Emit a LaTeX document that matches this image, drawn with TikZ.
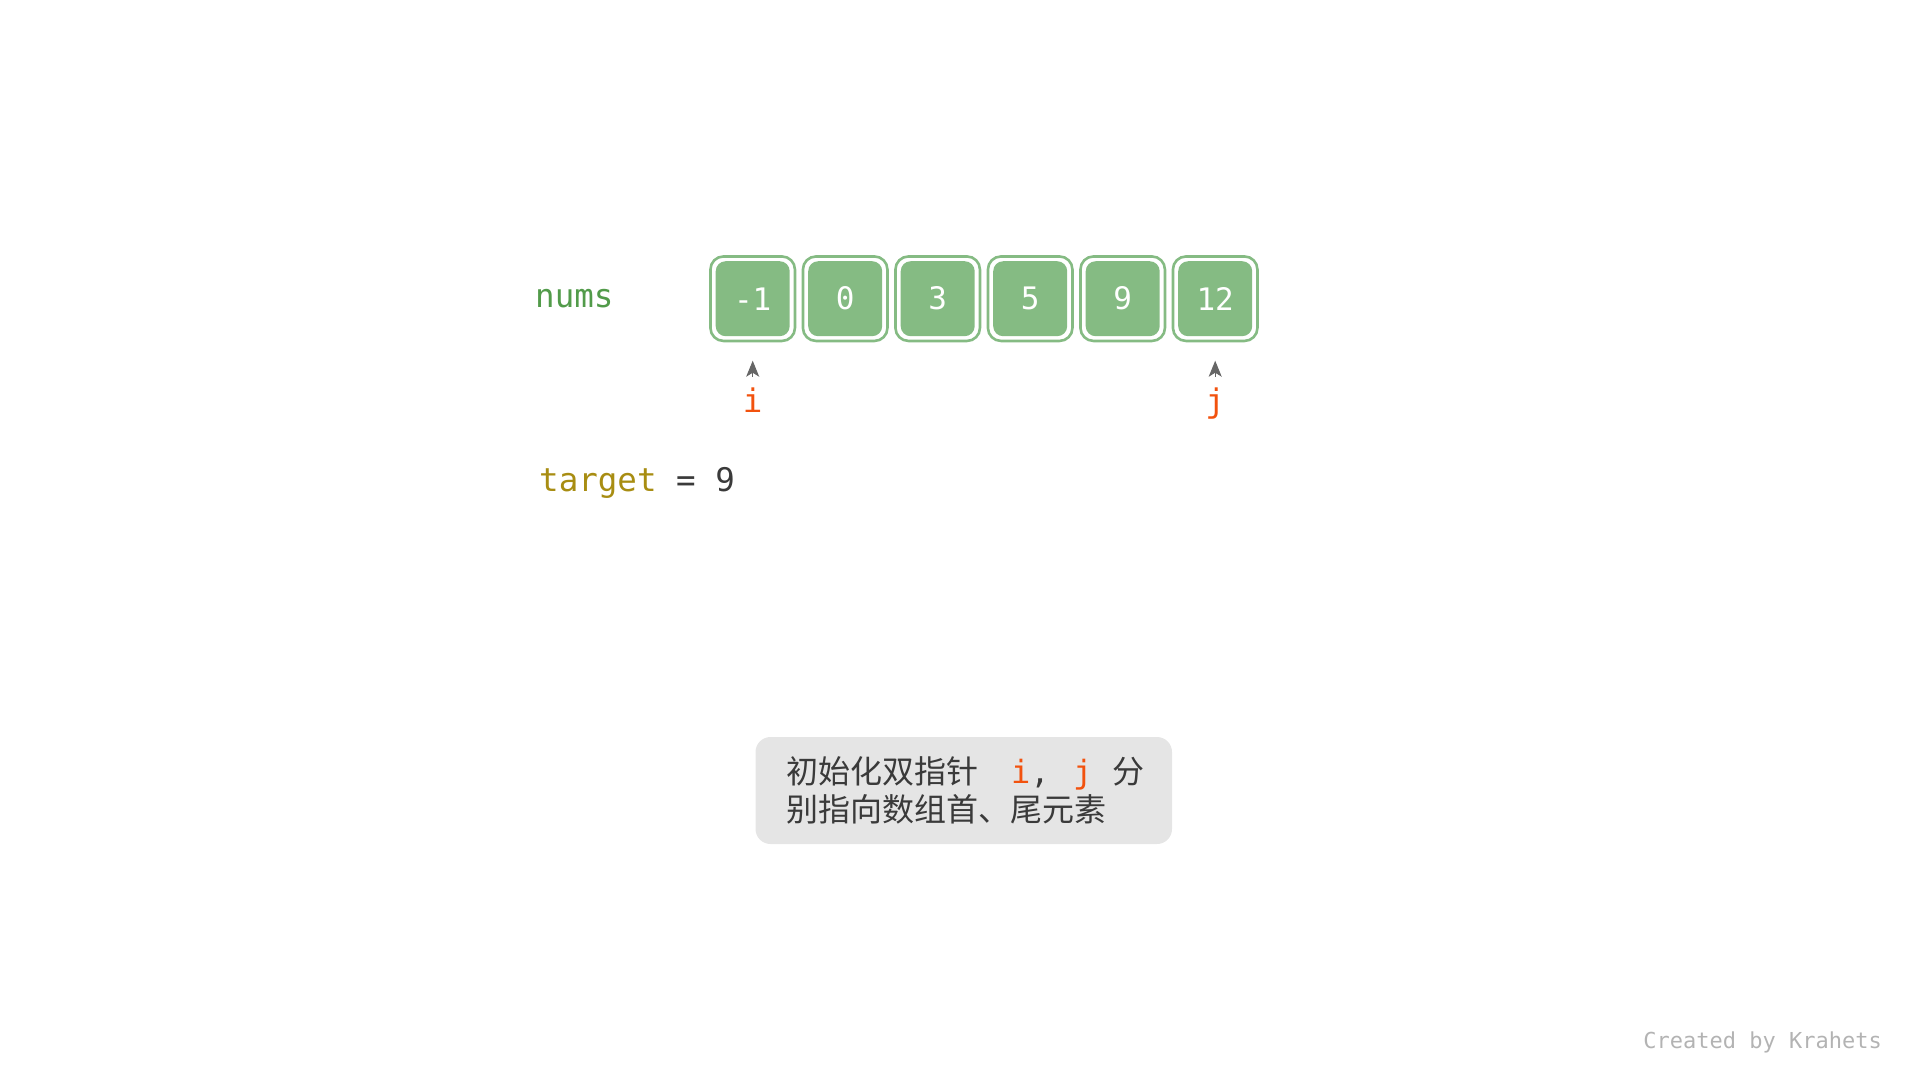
\documentclass[tikz,border=0pt]{standalone}
\usepackage{fontspec}
\setmonofont{DejaVu Sans Mono}
\newfontfamily\cjk{Noto Sans CJK SC}
\usetikzlibrary{arrows.meta}
\definecolor{cellgreen}{HTML}{85BB83}
\definecolor{numsgreen}{HTML}{529B4A}
\definecolor{ptrred}{HTML}{F2520E}
\definecolor{tgold}{HTML}{A88D12}
\definecolor{txtdark}{HTML}{3A3A3A}
\definecolor{boxgray}{HTML}{E5E5E5}
\definecolor{credgray}{HTML}{B3B3B3}
\definecolor{arrgray}{HTML}{666666}
\begin{document}
\begin{tikzpicture}[x=1pt,y=-1pt,
  cell/.style={fill=cellgreen, rounded corners=10pt, minimum width=74pt, minimum height=75pt,
    inner sep=0pt, outer sep=0pt, text=white, font=\ttfamily\fontsize{31pt}{37pt}\selectfont},
  cellring/.style={draw=cellgreen, line width=2.6pt, rounded corners=13pt, minimum size=84.5pt,
    inner sep=0pt, outer sep=0pt},
  monotxt/.style={inner sep=0pt, font=\ttfamily\fontsize{32.5pt}{39pt}\selectfont},
  ptr/.style={monotxt, text=ptrred, anchor=base},
  ptrarrow/.style={draw=arrgray, line width=1pt, -{Stealth[length=16pt, width=13pt, inset=4pt]},
    shorten <=11pt, shorten >=24.5pt},
  notebox/.style={fill=boxgray, rounded corners=15pt, minimum width=416.5pt, minimum height=107pt,
    inner sep=0pt},
  notetxt/.style={anchor=base west, inner sep=0pt, text=txtdark, font=\cjk\fontsize{32pt}{38pt}\selectfont},
]
\useasboundingbox (0,0) rectangle (1920,1080);

\node[monotxt, anchor=base west, text=numsgreen] (nums) at (535,307.3) {nums};

\foreach \v [count=\k] in {-1,0,3,5,9,12} {
  \node[cell] (c\k) at ({752.7+(\k-1)*92.5},298.7) {\v};
  \node[cellring] (r\k) at (c\k) {};
}

\node[ptr] (pi) at (c1.center |- 0,412.7) {i};
\node[ptr] (pj) at (c6.center |- 0,412.7) {j};
\draw[ptrarrow] (pi.north) -- (c1.south);
\draw[ptrarrow] (pj.north) -- (c6.south);

\node[monotxt, anchor=base west, text=txtdark] (target) at (539,491.7) {{\color{tgold}target} = 9};

\node[notebox] (note) at (963.75,790.5) {};
\node[notetxt] (l1) at (786.5,783) {初始化双指针\hspace{32.4pt}{\ttfamily{\color{ptrred}i},}\hspace{23.5pt}{\ttfamily\color{ptrred}j}\hspace{20pt}分};
\node[notetxt] (l2) at (786.5,821) {别指向数组首、尾元素};

\node[anchor=base east, inner sep=0pt, text=credgray, font=\ttfamily\fontsize{22pt}{26pt}\selectfont] (credit) at (1882,1048) {Created by Krahets};
\end{tikzpicture}
\end{document}
